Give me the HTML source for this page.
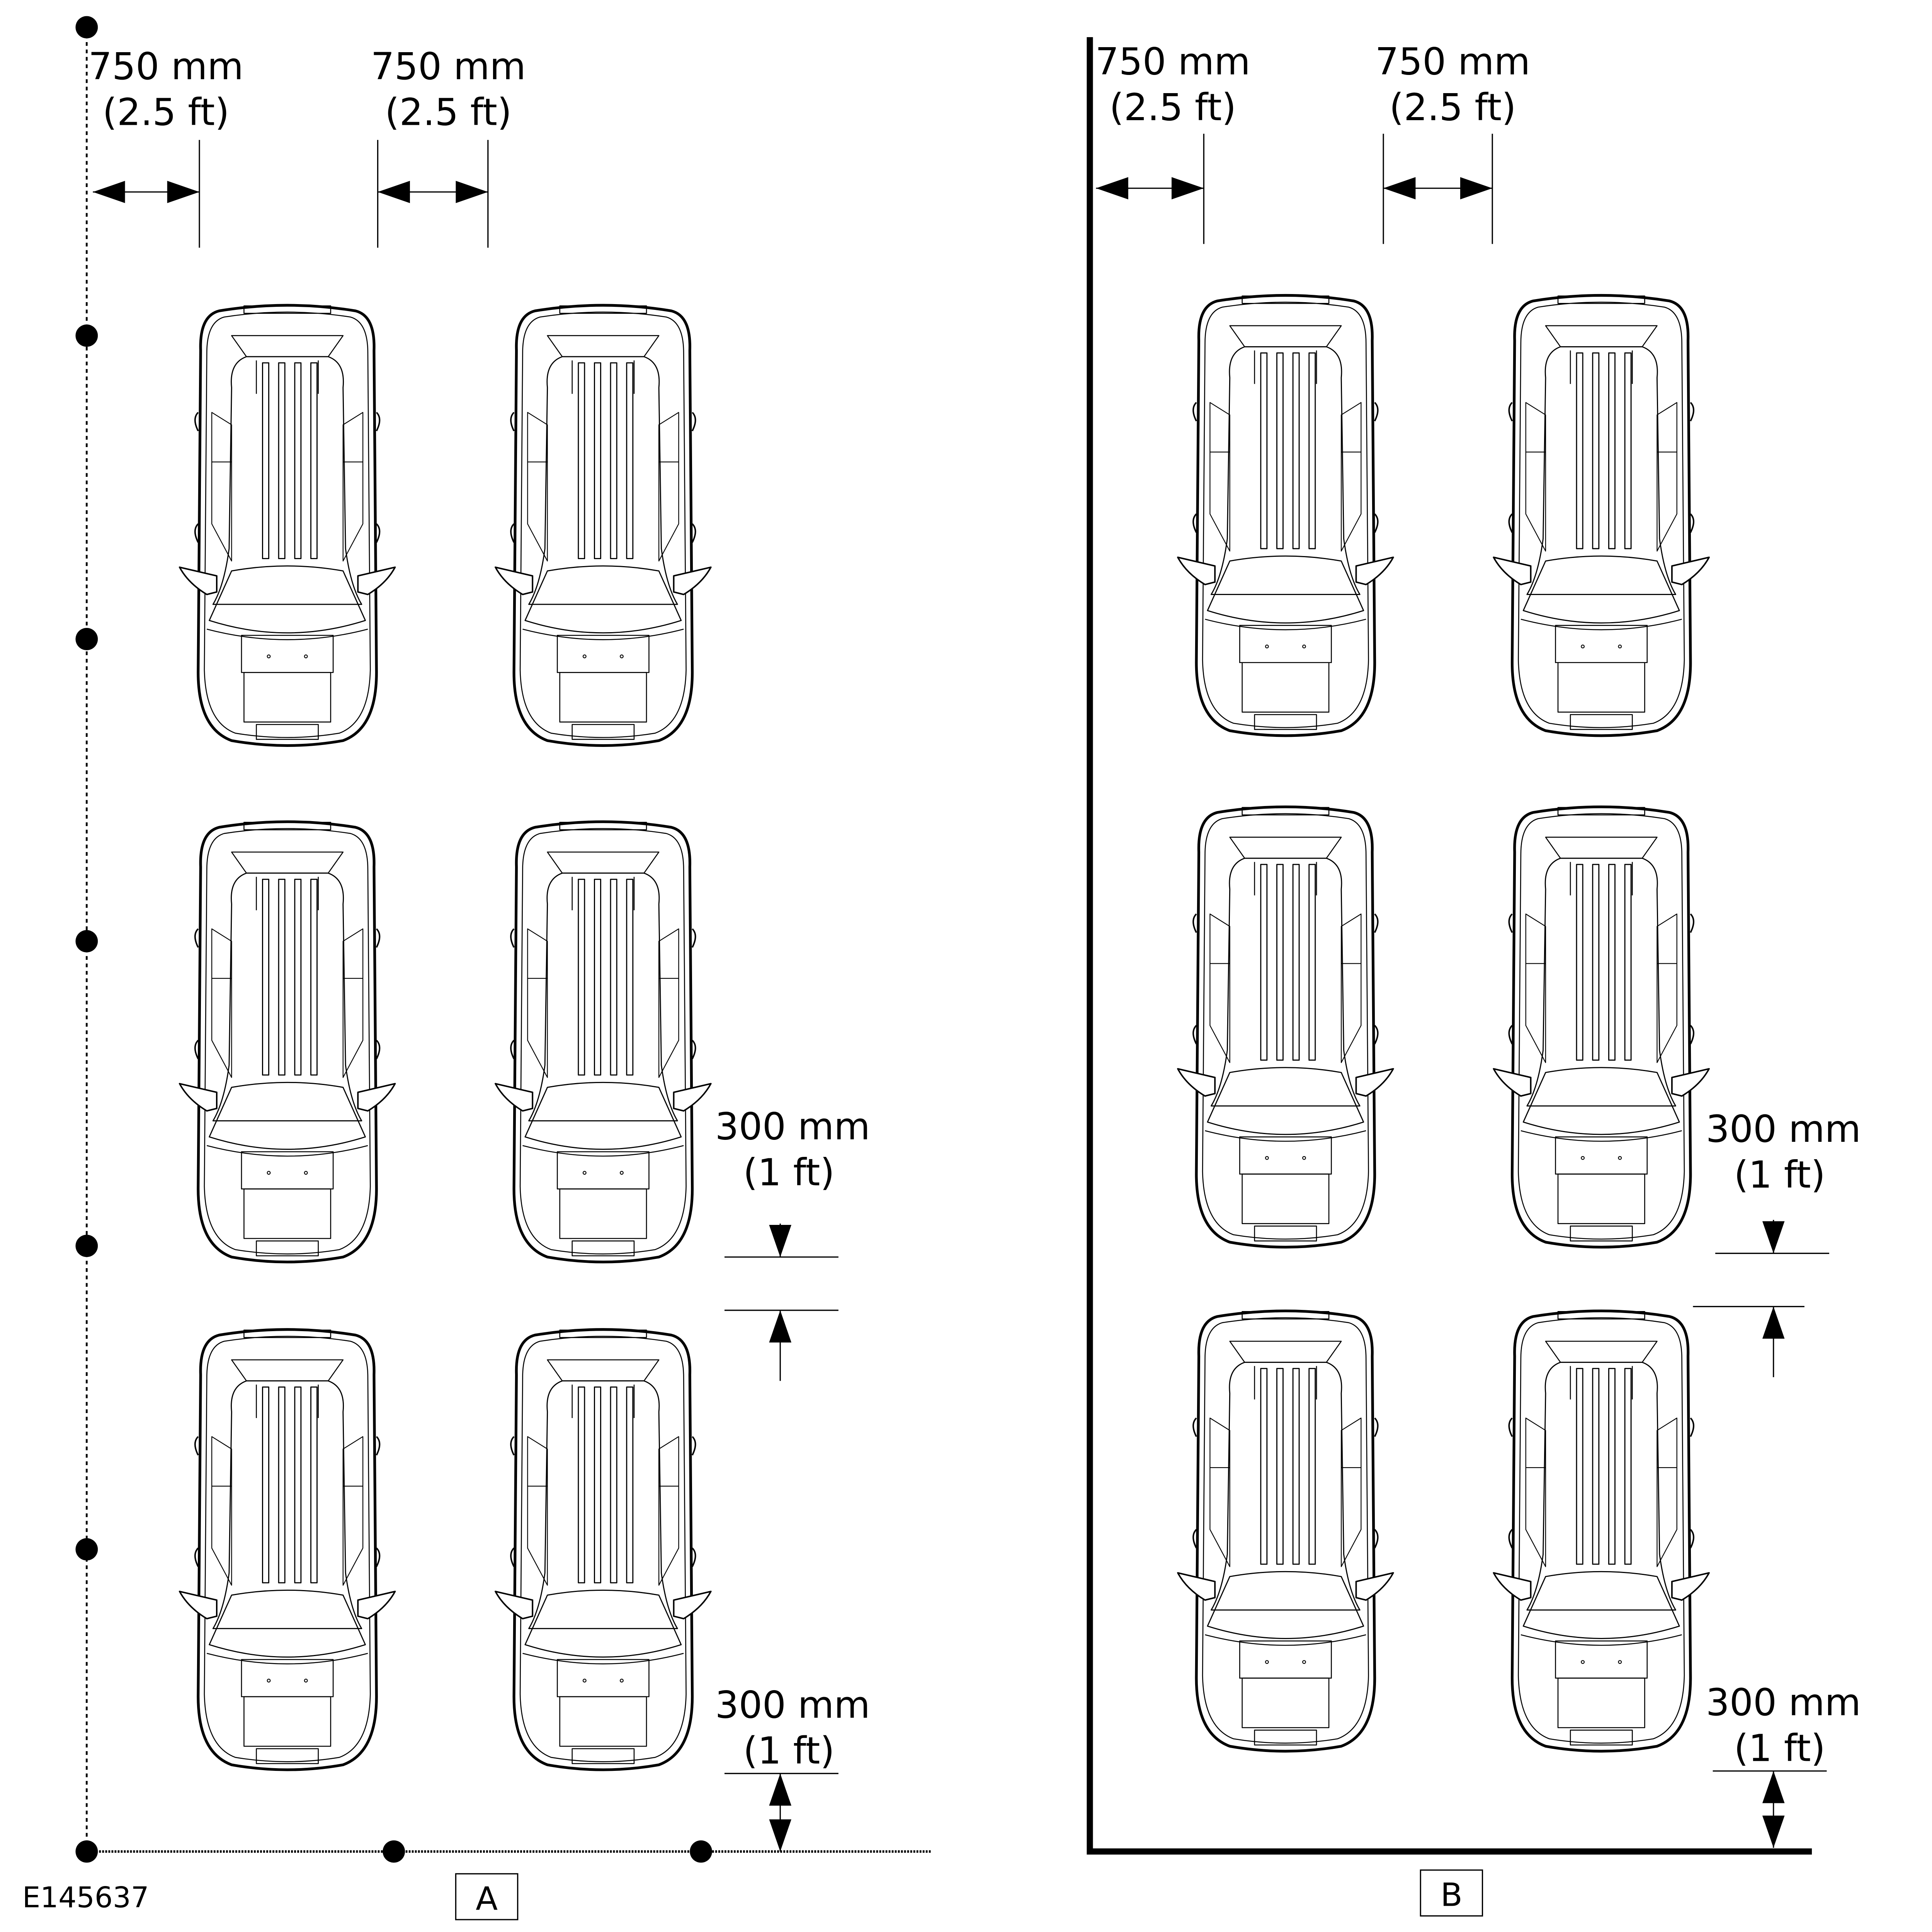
<!DOCTYPE html>
<html><head><meta charset="utf-8"><style>
html,body{margin:0;padding:0;background:#fff;overflow:hidden;}
svg{display:block;width:100vw;height:100vw;}
text{font-family:"DejaVu Sans","Liberation Sans",sans-serif;fill:#000;}
</style></head><body>
<svg xmlns="http://www.w3.org/2000/svg" viewBox="0 0 1560 1560" preserveAspectRatio="xMinYMin meet">
<defs>
<symbol id="car" overflow="visible">
 <g fill="none" stroke="#000" stroke-linejoin="round">
  <path d="M20,8 Q75,-1 130,8 Q146,12 145,40 L147,300 Q147,345 120,355 Q75,363 30,355 Q3,345 3,300 L5,40 Q4,12 20,8 Z" stroke-width="2.2" fill="#fff"/>
  <path d="M24,13 Q75,5 126,13 Q140,17 140,42 L142,298 Q141,340 117,349 Q75,356 33,349 Q9,340 8,298 L10,42 Q10,17 24,13 Z" stroke-width="0.8"/>
  <path d="M40,4 L110,4 L110,10 L40,10 Z" stroke-width="0.8"/>
  <path d="M30,28 L120,28 L108,45 L42,45 Z" stroke-width="0.8"/>
  <path d="M42,45 L108,45 Q122,50 120,70 L122,200 Q126,230 135,245 L15,245 Q24,230 28,200 L30,70 Q28,50 42,45 Z" stroke-width="0.9"/>
  <path d="M50,48 L50,75 M100,48 L100,75" stroke-width="0.8"/>
  <rect x="55" y="50" width="5" height="158" stroke-width="0.9"/>
  <rect x="68" y="50" width="5" height="158" stroke-width="0.9"/>
  <rect x="81" y="50" width="5" height="158" stroke-width="0.9"/>
  <rect x="94" y="50" width="5" height="158" stroke-width="0.9"/>
  <path d="M30,218 Q75,210 120,218 L138,258 Q75,278 12,258 Z" stroke-width="0.9"/>
  <path d="M10,265 Q75,282 140,265" stroke-width="0.8"/>
  <path d="M38,270 L112,270 L112,300 L38,300 Z" stroke-width="0.8"/>
  <path d="M40,300 L110,300 L110,340 L40,340 Z" stroke-width="0.8"/>
  <path d="M50,342 L100,342 L100,354 L50,354 Z" stroke-width="0.8"/>
  <path d="M14,90 L30,100 L30,210 L14,180 Z M136,90 L120,100 L120,210 L136,180 Z" stroke-width="0.7"/>
  <path d="M14,130 L30,130 M136,130 L120,130" stroke-width="0.7"/>
  <path d="M3,90 Q-2,95 3,105 M147,90 Q152,95 147,105 M3,180 Q-2,185 3,195 M147,180 Q152,185 147,195" stroke-width="1.2"/>
  <path d="M-12,215 L18,222 L18,235 L10,237 Q-5,228 -12,215 Z M162,215 L132,222 L132,235 L140,237 Q155,228 162,215 Z" stroke-width="1.2" fill="#fff"/>
  <circle cx="60" cy="287" r="1.2" stroke-width="0.7"/><circle cx="90" cy="287" r="1.2" stroke-width="0.7"/>
 </g>
</symbol>
<marker id="ah" viewBox="0 0 26 18" refX="26" refY="9" markerWidth="26" markerHeight="18" markerUnits="userSpaceOnUse" orient="auto-start-reverse">
 <path d="M0,0 L26,9 L0,18 Z" fill="#000"/>
</marker>
</defs>

<use href="#car" x="157" y="243"/>
<use href="#car" x="412" y="243"/>
<use href="#car" x="157" y="660"/>
<use href="#car" x="412" y="660"/>
<use href="#car" x="157" y="1070"/>
<use href="#car" x="412" y="1070"/>

<use href="#car" x="963" y="235"/>
<use href="#car" x="1218" y="235"/>
<use href="#car" x="963" y="648"/>
<use href="#car" x="1218" y="648"/>
<use href="#car" x="963" y="1055"/>
<use href="#car" x="1218" y="1055"/>

<g stroke="#000" fill="none">
 <line x1="70" y1="22" x2="70" y2="1495" stroke-width="1.5" stroke-dasharray="3,3"/>
 <line x1="70" y1="1495" x2="752" y2="1495" stroke-width="2" stroke-dasharray="1.5,1"/>
</g>
<g fill="#000">
 <circle cx="70" cy="22" r="9"/><circle cx="70" cy="271" r="9"/><circle cx="70" cy="516" r="9"/>
 <circle cx="70" cy="760" r="9"/><circle cx="70" cy="1006" r="9"/><circle cx="70" cy="1251" r="9"/>
 <circle cx="70" cy="1495" r="9"/><circle cx="318" cy="1495" r="9"/><circle cx="566" cy="1495" r="9"/>
</g>

<g stroke="#000" stroke-width="1">
 <line x1="161" y1="113" x2="161" y2="200"/>
 <line x1="305" y1="113" x2="305" y2="200"/>
 <line x1="394" y1="113" x2="394" y2="200"/>
 <line x1="75" y1="155" x2="161" y2="155" marker-start="url(#ah)" marker-end="url(#ah)"/>
 <line x1="305" y1="155" x2="394" y2="155" marker-start="url(#ah)" marker-end="url(#ah)"/>
 <line x1="585" y1="1015" x2="677" y2="1015"/>
 <line x1="585" y1="1058" x2="677" y2="1058"/>
 <line x1="630" y1="988" x2="630" y2="1015" marker-end="url(#ah)"/>
 <line x1="630" y1="1115" x2="630" y2="1058" marker-end="url(#ah)"/>
 <line x1="585" y1="1432" x2="677" y2="1432"/>
 <line x1="630" y1="1432" x2="630" y2="1495" marker-start="url(#ah)" marker-end="url(#ah)"/>
</g>
<g font-size="30" text-anchor="middle">
 <text x="134" y="64">750 mm</text><text x="134" y="101">(2.5 ft)</text>
 <text x="362" y="64">750 mm</text><text x="362" y="101">(2.5 ft)</text>
 <text x="640" y="920">300 mm</text><text x="637" y="957">(1 ft)</text>
 <text x="640" y="1387">300 mm</text><text x="637" y="1424">(1 ft)</text>
</g>
<text x="18" y="1540" font-size="23">E145637</text>
<rect x="368" y="1513" width="50" height="37" fill="none" stroke="#000" stroke-width="1"/>
<text x="393" y="1542" font-size="26" text-anchor="middle">A</text>

<g stroke="#000" stroke-width="5" fill="none">
 <polyline points="880,30 880,1495 1463,1495"/>
</g>
<g stroke="#000" stroke-width="1">
 <line x1="972" y1="108" x2="972" y2="197"/>
 <line x1="1117" y1="108" x2="1117" y2="197"/>
 <line x1="1205" y1="108" x2="1205" y2="197"/>
 <line x1="885" y1="152" x2="972" y2="152" marker-start="url(#ah)" marker-end="url(#ah)"/>
 <line x1="1117" y1="152" x2="1205" y2="152" marker-start="url(#ah)" marker-end="url(#ah)"/>
 <line x1="1385" y1="1012" x2="1477" y2="1012"/>
 <line x1="1367" y1="1055" x2="1457" y2="1055"/>
 <line x1="1432" y1="985" x2="1432" y2="1012" marker-end="url(#ah)"/>
 <line x1="1432" y1="1112" x2="1432" y2="1055" marker-end="url(#ah)"/>
 <line x1="1383" y1="1430" x2="1475" y2="1430"/>
 <line x1="1432" y1="1430" x2="1432" y2="1492" marker-start="url(#ah)" marker-end="url(#ah)"/>
</g>
<g font-size="30" text-anchor="middle">
 <text x="947" y="60">750 mm</text><text x="947" y="97">(2.5 ft)</text>
 <text x="1173" y="60">750 mm</text><text x="1173" y="97">(2.5 ft)</text>
 <text x="1440" y="922">300 mm</text><text x="1437" y="959">(1 ft)</text>
 <text x="1440" y="1385">300 mm</text><text x="1437" y="1422">(1 ft)</text>
</g>
<rect x="1147" y="1510" width="50" height="37" fill="none" stroke="#000" stroke-width="1"/>
<text x="1172" y="1539" font-size="26" text-anchor="middle">B</text>
</svg>
</body></html>
